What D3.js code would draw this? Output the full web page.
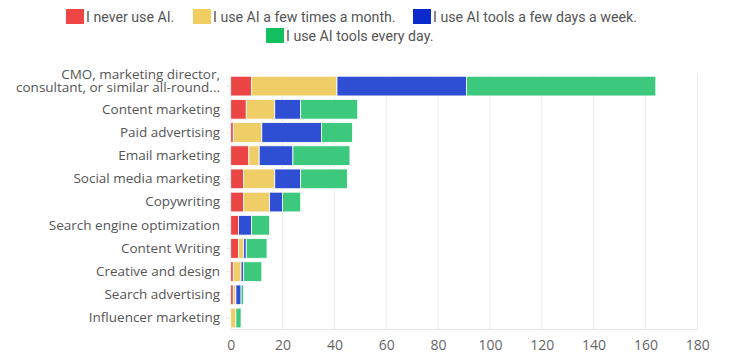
<!DOCTYPE html>
<html><head><meta charset="utf-8">
<script src="https://cdn.jsdelivr.net/npm/d3@7"></script>
<style>body{margin:0;background:#fff}svg{display:block}</style>
</head><body><svg id="c" width="730" height="361"></svg>
<script>
const categories = ["CMO, marketing director, consultant, or similar all-round...","Content marketing","Paid advertising","Email marketing","Social media marketing","Copywriting","Search engine optimization","Content Writing","Creative and design","Search advertising","Influencer marketing"];
const seriesNames = ["I never use AI.","I use AI a few times a month.","I use AI tools a few days a week.","I use AI tools every day."];
const neverUse = [8,6,1,7,5,5,3,3,1,1,0];
const fewMonth = [33,11,11,4,12,10,0,2,3,1,2];
const fewWeek = [50,10,23,13,10,5,5,1,1,2,0];
const everyDay = [73,22,12,22,18,7,7,8,7,1,2];
const xTicks = [0,20,40,60,80,100,120,140,160,180];
const barColors = ["#EB4545","#F0CE67","#2E4FD4","#3DC97D"];
const legendColors = ["#EE4545","#F2CE62","#0B2ACC","#13BF5E"];

const svg = d3.select("#c");
const x = d3.scaleLinear().domain([0,180]).range([230.7,697.3]);
const y = d3.scaleBand().domain(categories).range([74.5,329.6]).paddingInner(0.15).paddingOuter(0.075);

// grid
svg.append("g").selectAll("line").data(xTicks).join("line")
  .attr("x1",d=>x(d)).attr("x2",d=>x(d)).attr("y1",74.5).attr("y2",329.5)
  .attr("stroke","#ebebeb").attr("stroke-width",1);
svg.append("line").attr("x1",x(0)).attr("x2",x(180)).attr("y1",329.5).attr("y2",329.5).attr("stroke","#e3e3e3");

const data = categories.map((c,i)=>({cat:c,v:[neverUse[i],fewMonth[i],fewWeek[i],everyDay[i]]}));
const stack = d3.stack().keys([0,1,2,3]).value((d,k)=>d.v[k]);
const layers = stack(data);
svg.append("g").selectAll("g").data(layers).join("g")
  .attr("fill",(d,i)=>barColors[i])
  .selectAll("rect").data(d=>d.filter(p=>p[1]-p[0]>0)).join("rect")
  .attr("x",d=>x(d[0])).attr("width",d=>x(d[1])-x(d[0]))
  .attr("y",d=>y(d.data.cat)).attr("height",y.bandwidth())
  .attr("stroke","#fff").attr("stroke-width",0.8);

// x axis labels
const xa = svg.append("g").attr("transform","translate(0,329.5)")
  .call(d3.axisBottom(x).tickValues(xTicks).tickSize(0).tickPadding(11));
xa.select(".domain").remove();
xa.selectAll("text").attr("font-family","Open Sans").attr("font-size",14).attr("fill","#666");

// y axis
const ya = svg.append("g").attr("transform","translate(230,0)")
  .call(d3.axisLeft(y).tickSize(4).tickPadding(6));
ya.select(".domain").remove();
ya.selectAll("line").attr("stroke","#e6e6e6");
ya.selectAll("text").attr("font-family","Open Sans").attr("font-size",13.5).attr("fill","#555")
  .each(function(d,i){
    if(i===0){
      const t=d3.select(this); t.text(null);
      t.append("tspan").attr("x",-10).attr("dy","-0.55em").text("CMO, marketing director,");
      t.append("tspan").attr("x",-10).attr("dy","1.02em").text("consultant, or similar all-round...");
    }
  });

// legend
const leg = [
  {i:0,x:66,y:9},{i:1,x:193,y:9},{i:2,x:413,y:9},{i:3,x:266,y:28}
];
const lg = svg.append("g");
leg.forEach(l=>{
  lg.append("rect").attr("x",l.x).attr("y",l.y).attr("width",18).attr("height",15).attr("fill",legendColors[l.i]);
  lg.append("text").attr("x",l.x+20).attr("y",l.y+12.5).attr("font-family","Liberation Sans Narrow, Roboto").attr("font-size",14.2)
    .attr("fill","#555").text(seriesNames[l.i]);
});
</script></body></html>
